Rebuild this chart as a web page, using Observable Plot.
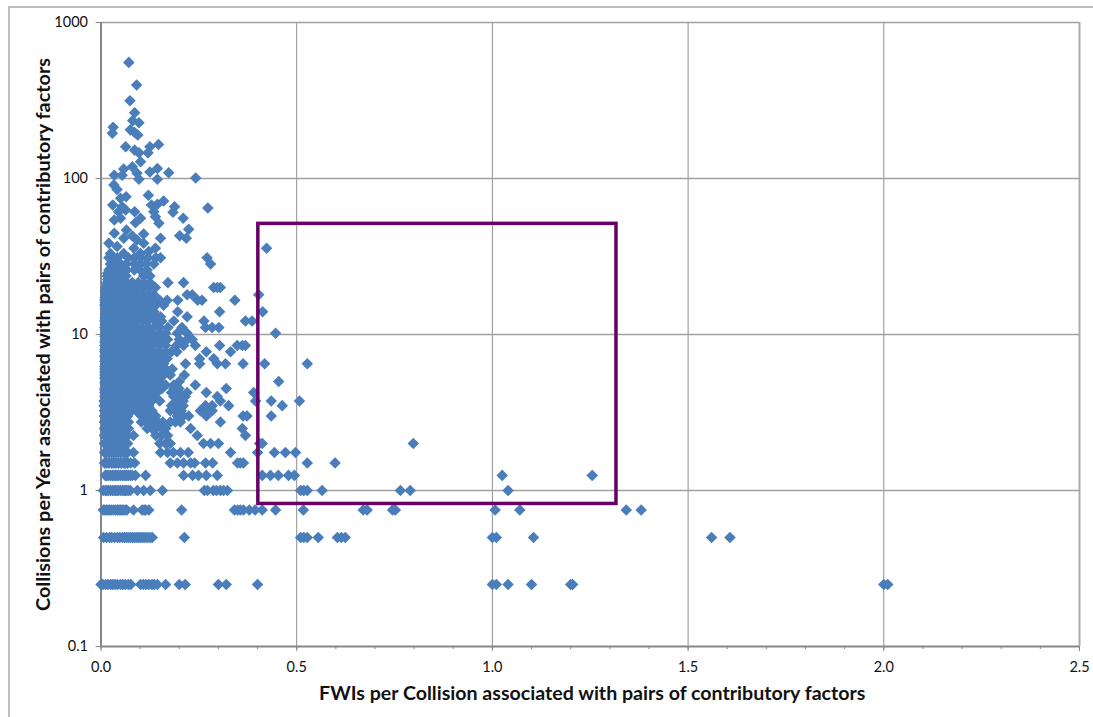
<!DOCTYPE html>
<html>
<head>
<meta charset="utf-8">
<script src="https://cdn.jsdelivr.net/npm/d3@7"></script>
<script src="https://cdn.jsdelivr.net/npm/@observablehq/plot@0.6"></script>
<style>
html,body{margin:0;padding:0;background:#fff;overflow:hidden}
#chart{position:relative;width:1093px;height:717px}
#edge{position:absolute;left:8px;top:6px;right:-4px;bottom:-4px;border-left:2px solid #bdbdbd;border-top:2px solid #bdbdbd}
svg{position:absolute;left:0;top:0}
</style>
</head>
<body>
<div id="chart"><div id="edge"></div></div>
<script>
const xTitle = "FWIs per Collision associated with pairs of contributory factors";
const yTitle = "Collisions per Year associated with pairs of contributory factors";
const xMajor = [0, 0.5, 1, 1.5, 2];
const xMinor = [0, 0.1, 0.2, 0.3, 0.4, 0.5, 0.6, 0.7, 0.8, 0.9, 1, 1.1, 1.2, 1.3, 1.4, 1.5, 1.6, 1.7, 1.8, 1.9, 2, 2.1, 2.2, 2.3, 2.4, 2.5];
const xLabelled = [0, 0.5, 1, 1.5, 2, 2.5];
const yMajor = [0.1, 1, 10, 100, 1000];

// Region outlined in purple
const boxX = [0.402, 1.317];
const boxY = [0.82, 51.2];

// Points on the discrete yearly rates, one list of FWIs per collision for each rate
const rowY = [0.25, 0.5, 0.75, 1, 1.25, 1.5, 1.75, 2, 2.25, 2.5, 2.75, 3, 3.25, 3.5, 3.75, 4, 4.25, 4.5, 4.75, 5, 5.5, 6, 6.5, 7, 7.75, 8.5, 9.3, 10.2, 11.1, 12.2, 13, 14, 15.4, 16.6, 18, 20, 21.5, 23.7, 25.9, 28.3, 31];
const rowX = [
  [0, 0.005, 0.012, 0.018, 0.025, 0.03, 0.036, 0.042, 0.05, 0.056, 0.062, 0.07, 0.076, 0.101, 0.108, 0.115, 0.122, 0.13, 0.136, 0.144, 0.165, 0.2, 0.215, 0.3, 0.32, 0.4, 1, 1.01, 1.04, 1.1, 1.2, 1.205, 2, 2.01],
  [0.0065, 0.014, 0.022, 0.027, 0.035, 0.042, 0.048, 0.055, 0.06, 0.065, 0.07, 0.075, 0.08, 0.085, 0.09, 0.095, 0.1, 0.105, 0.11, 0.115, 0.12, 0.126, 0.131, 0.213, 0.51, 0.518, 0.527, 0.555, 0.604, 0.614, 0.624, 1, 1.01, 1.105, 1.56, 1.607],
  [0.006, 0.01, 0.014, 0.018, 0.022, 0.027, 0.032, 0.037, 0.042, 0.046, 0.05, 0.054, 0.057, 0.062, 0.066, 0.083, 0.105, 0.11, 0.114, 0.122, 0.206, 0.341, 0.349, 0.356, 0.364, 0.379, 0.394, 0.412, 0.446, 0.517, 0.67, 0.68, 0.745, 0.752, 1.007, 1.07, 1.342, 1.38],
  [0.006, 0.011, 0.015, 0.019, 0.024, 0.029, 0.033, 0.037, 0.041, 0.045, 0.05, 0.055, 0.059, 0.062, 0.066, 0.07, 0.075, 0.093, 0.109, 0.126, 0.157, 0.264, 0.272, 0.287, 0.295, 0.305, 0.313, 0.323, 0.51, 0.518, 0.527, 0.565, 0.765, 0.79, 1.04],
  [0.011, 0.015, 0.019, 0.024, 0.029, 0.033, 0.037, 0.041, 0.045, 0.05, 0.055, 0.059, 0.062, 0.066, 0.07, 0.075, 0.08, 0.088, 0.114, 0.211, 0.234, 0.249, 0.269, 0.297, 0.412, 0.433, 0.453, 0.479, 0.494, 1.025, 1.255],
  [0.012, 0.02, 0.028, 0.036, 0.044, 0.052, 0.06, 0.068, 0.076, 0.086, 0.177, 0.195, 0.211, 0.229, 0.239, 0.267, 0.285, 0.349, 0.356, 0.364, 0.527, 0.598],
  [0.012, 0.022, 0.032, 0.04, 0.05, 0.06, 0.067, 0.083, 0.152, 0.17, 0.185, 0.203, 0.223, 0.331, 0.4, 0.443, 0.471, 0.497],
  [0.01, 0.02, 0.03, 0.04, 0.05, 0.06, 0.067, 0.15, 0.165, 0.177, 0.262, 0.28, 0.3, 0.405, 0.412, 0.798],
  [0.01, 0.02, 0.03, 0.04, 0.05, 0.06, 0.067, 0.083, 0.14, 0.155, 0.17, 0.246, 0.369],
  [0.012, 0.022, 0.032, 0.042, 0.052, 0.062, 0.07, 0.118, 0.13, 0.14, 0.155, 0.165, 0.229, 0.361],
  [0.01, 0.02, 0.03, 0.04, 0.05, 0.06, 0.07, 0.103, 0.115, 0.13, 0.145, 0.158, 0.177, 0.19, 0.203, 0.305],
  [0.01, 0.02, 0.03, 0.04, 0.05, 0.06, 0.067, 0.103, 0.115, 0.125, 0.14, 0.195, 0.21, 0.224, 0.269, 0.363, 0.373, 0.435],
  [0.01, 0.02, 0.03, 0.04, 0.05, 0.06, 0.07, 0.078, 0.09, 0.1, 0.11, 0.12, 0.13, 0.177, 0.19, 0.205, 0.254, 0.267, 0.284],
  [0.008, 0.018, 0.028, 0.038, 0.048, 0.058, 0.075, 0.085, 0.095, 0.105, 0.115, 0.122, 0.18, 0.195, 0.21, 0.267, 0.284, 0.326, 0.463],
  [0.008, 0.018, 0.028, 0.038, 0.048, 0.058, 0.07, 0.08, 0.09, 0.1, 0.11, 0.12, 0.13, 0.15, 0.195, 0.21, 0.305, 0.395, 0.435, 0.507],
  [0.01, 0.02, 0.03, 0.04, 0.05, 0.06, 0.07, 0.08, 0.09, 0.1, 0.11, 0.12, 0.135, 0.186, 0.2, 0.215, 0.297],
  [0.01, 0.02, 0.03, 0.04, 0.05, 0.06, 0.07, 0.08, 0.09, 0.1, 0.11, 0.12, 0.13, 0.143, 0.18, 0.199, 0.22, 0.269, 0.39],
  [0.01, 0.02, 0.03, 0.04, 0.05, 0.06, 0.07, 0.08, 0.09, 0.1, 0.11, 0.125, 0.14, 0.156, 0.186, 0.199, 0.32],
  [0.012, 0.022, 0.032, 0.042, 0.052, 0.062, 0.072, 0.082, 0.092, 0.102, 0.115, 0.13, 0.145, 0.165, 0.186, 0.241],
  [0.012, 0.022, 0.032, 0.042, 0.052, 0.062, 0.072, 0.082, 0.092, 0.105, 0.12, 0.135, 0.15, 0.2, 0.454],
  [0.01, 0.02, 0.03, 0.04, 0.05, 0.06, 0.07, 0.08, 0.09, 0.1, 0.115, 0.13, 0.145, 0.16, 0.177, 0.213],
  [0.01, 0.02, 0.03, 0.04, 0.05, 0.06, 0.07, 0.08, 0.09, 0.1, 0.11, 0.12, 0.135, 0.15, 0.165, 0.182],
  [0.012, 0.022, 0.032, 0.042, 0.052, 0.062, 0.072, 0.082, 0.092, 0.102, 0.115, 0.13, 0.145, 0.16, 0.216, 0.252, 0.297, 0.318, 0.363, 0.418, 0.527],
  [0.012, 0.022, 0.032, 0.042, 0.052, 0.062, 0.072, 0.082, 0.092, 0.11, 0.125, 0.14, 0.155, 0.169, 0.252, 0.288],
  [0.01, 0.02, 0.03, 0.04, 0.05, 0.06, 0.07, 0.08, 0.09, 0.105, 0.12, 0.135, 0.15, 0.165, 0.18, 0.194, 0.269, 0.331],
  [0.01, 0.02, 0.03, 0.04, 0.05, 0.06, 0.07, 0.08, 0.09, 0.1, 0.115, 0.13, 0.15, 0.165, 0.193, 0.211, 0.241, 0.303, 0.348, 0.361, 0.369],
  [0.012, 0.022, 0.032, 0.042, 0.052, 0.062, 0.072, 0.082, 0.095, 0.11, 0.125, 0.14, 0.155, 0.17, 0.2, 0.22, 0.233],
  [0.012, 0.022, 0.032, 0.042, 0.052, 0.062, 0.072, 0.082, 0.095, 0.11, 0.13, 0.15, 0.165, 0.195, 0.22, 0.446],
  [0.01, 0.02, 0.03, 0.04, 0.05, 0.06, 0.07, 0.08, 0.09, 0.105, 0.12, 0.135, 0.15, 0.171, 0.207, 0.267, 0.284, 0.301],
  [0.01, 0.02, 0.03, 0.04, 0.05, 0.06, 0.07, 0.08, 0.09, 0.105, 0.12, 0.14, 0.155, 0.186, 0.263, 0.369, 0.386],
  [0.012, 0.022, 0.032, 0.042, 0.052, 0.062, 0.072, 0.085, 0.1, 0.12, 0.14, 0.152, 0.22],
  [0.012, 0.022, 0.032, 0.042, 0.052, 0.062, 0.072, 0.085, 0.1, 0.115, 0.135, 0.196, 0.303, 0.413],
  [0.01, 0.02, 0.03, 0.04, 0.05, 0.06, 0.07, 0.08, 0.095, 0.11, 0.125, 0.14, 0.16],
  [0.01, 0.02, 0.03, 0.04, 0.05, 0.06, 0.07, 0.08, 0.09, 0.105, 0.12, 0.135, 0.15, 0.169, 0.196, 0.247, 0.258, 0.342],
  [0.012, 0.022, 0.032, 0.042, 0.052, 0.062, 0.075, 0.09, 0.105, 0.12, 0.135, 0.22, 0.233, 0.403],
  [0.012, 0.022, 0.032, 0.042, 0.052, 0.065, 0.08, 0.095, 0.11, 0.125, 0.139, 0.288, 0.297, 0.305],
  [0.016, 0.026, 0.036, 0.046, 0.056, 0.066, 0.08, 0.095, 0.11, 0.125, 0.171, 0.211],
  [0.016, 0.028, 0.04, 0.052, 0.064, 0.109, 0.125],
  [0.02, 0.03, 0.042, 0.054, 0.066, 0.085, 0.1, 0.118],
  [0.024, 0.036, 0.05, 0.064, 0.085, 0.1, 0.115, 0.135, 0.28],
  [0.02, 0.03, 0.042, 0.07, 0.085, 0.101, 0.12, 0.14, 0.152, 0.271]
];

// Estimated rates inside the solid block, where single diamonds cannot be told apart
const lowCoreY = [1.5, 1.75, 2, 2.25, 2.5, 2.75, 3, 3.25, 3.5, 3.75];
const lowCoreX = [0.009, 0.015, 0.021, 0.027, 0.033, 0.039, 0.045, 0.051, 0.057, 0.063, 0.068];
const midCoreY = [4.4, 4.9, 5.25, 5.75, 6.25, 6.75, 7.25, 8, 9, 9.75];
const midCoreX = [0.01, 0.018, 0.026, 0.034, 0.042, 0.05, 0.058, 0.066, 0.074, 0.082, 0.09, 0.098, 0.106, 0.114, 0.122, 0.13];
const highCoreY = [10.7, 11.6, 12.6, 13.5, 14.7, 16, 17.3, 19];
const highCoreX = [0.011, 0.019, 0.027, 0.035, 0.043, 0.051, 0.059, 0.067, 0.075, 0.083];
const topCoreY = [21, 22.5, 24.7];
const topCoreX = [0.017, 0.025, 0.033, 0.041, 0.049, 0.057];

// Scattered points above the dense block
const upperX = [0.071, 0.091, 0.074, 0.086, 0.081, 0.097, 0.031, 0.029, 0.075, 0.086, 0.094, 0.147, 0.125, 0.063, 0.086, 0.12, 0.097, 0.101, 0.08, 0.058, 0.144, 0.173, 0.125, 0.034, 0.054, 0.092, 0.097, 0.144, 0.242, 0.033, 0.041, 0.121, 0.064, 0.05, 0.16, 0.03, 0.129, 0.144, 0.188, 0.273, 0.184, 0.135, 0.054, 0.063, 0.045, 0.086, 0.05, 0.101, 0.034, 0.088, 0.139, 0.148, 0.21, 0.224, 0.201, 0.218, 0.152, 0.065, 0.034, 0.109, 0.08, 0.092, 0.02, 0.058, 0.041, 0.109, 0.084, 0.139, 0.122, 0.024, 0.058, 0.101, 0.423];
const upperY = [555, 398, 315, 264, 235, 228, 213, 195, 205, 197, 190, 165, 160, 160, 152, 146, 146, 128, 119, 115, 116, 109, 110, 105, 105, 108, 99, 99, 100.7, 91, 85, 78, 76.5, 74.7, 71.8, 67.7, 67.7, 68.4, 66, 64.7, 60.7, 61.3, 66, 62.8, 61.3, 61.3, 55.6, 55.6, 54.2, 52, 56.9, 51.6, 55.6, 47.2, 43, 41.4, 41.4, 46.8, 44.6, 44.1, 42.8, 40.4, 38.4, 41.4, 36.6, 38.4, 35.7, 35.7, 34, 33.1, 33.1, 33.1, 35.7];

const color = "#4a7ebb";
const frameInk = "#868686";

const core = (ys, xs) => ys.flatMap(y => xs.map(x => ({x, y})));
const chartPoints = rowY.flatMap((y, i) => rowX[i].map(x => ({x, y})))
  .concat(upperX.map((x, i) => ({x, y: upperY[i]})))
  .concat(core(lowCoreY, lowCoreX), core(midCoreY, midCoreX), core(highCoreY, highCoreX), core(topCoreY, topCoreX));

const plot = Plot.plot({
  width: 1093,
  height: 717,
  marginLeft: 100.5,
  marginRight: 14,
  marginTop: 22,
  marginBottom: 71,
  style: {fontFamily: "Lato, sans-serif", background: "transparent", color: "#111", overflow: "visible"},
  x: {domain: [0, 2.5], label: null},
  y: {type: "log", domain: [0.1, 1000], label: null},
  marks: [
    Plot.ruleX(xMajor.slice(1), {stroke: "#8f8f8f", strokeWidth: 1}),
    Plot.ruleX([2.5], {stroke: "#ababab", strokeWidth: 2}),
    Plot.ruleY(yMajor.slice(1), {stroke: "#a0a0a0", strokeWidth: 1.3}),
    Plot.axisX(xMinor, {tickSize: 3, tickFormat: () => "", stroke: frameInk, label: null}),
    Plot.axisX(xLabelled, {tickSize: 5, tickPadding: 10, tickFormat: d => d.toFixed(1), fontSize: 14.5, stroke: frameInk, label: null}),
    Plot.axisY(yMajor, {tickSize: 5, tickPadding: 8, tickFormat: d => String(d), fontSize: 14.5, stroke: frameInk, label: null}),
    Plot.ruleX([0], {stroke: frameInk, strokeWidth: 2}),
    Plot.ruleY([0.1], {stroke: frameInk, strokeWidth: 2}),
    Plot.dot(chartPoints, {x: "x", y: "y", symbol: "diamond2", r: 5.2, fill: color, stroke: "none"}),
    Plot.rect([{x1: boxX[0], x2: boxX[1], y1: boxY[0], y2: boxY[1]}], {x1: "x1", x2: "x2", y1: "y1", y2: "y2", fill: "none", stroke: "#660066", strokeWidth: 3.5}),
    Plot.text([xTitle], {frameAnchor: "bottom", lineAnchor: "middle", dy: 47, dx: 2, fontSize: 19.6, fontWeight: "bold", fill: "#111"}),
    Plot.text([yTitle], {frameAnchor: "left", textAnchor: "middle", lineAnchor: "middle", dx: -57.5, rotate: -90, fontSize: 19.85, fontWeight: "bold", fill: "#111"})
  ]
});
document.getElementById("chart").appendChild(plot);
</script>
</body>
</html>
